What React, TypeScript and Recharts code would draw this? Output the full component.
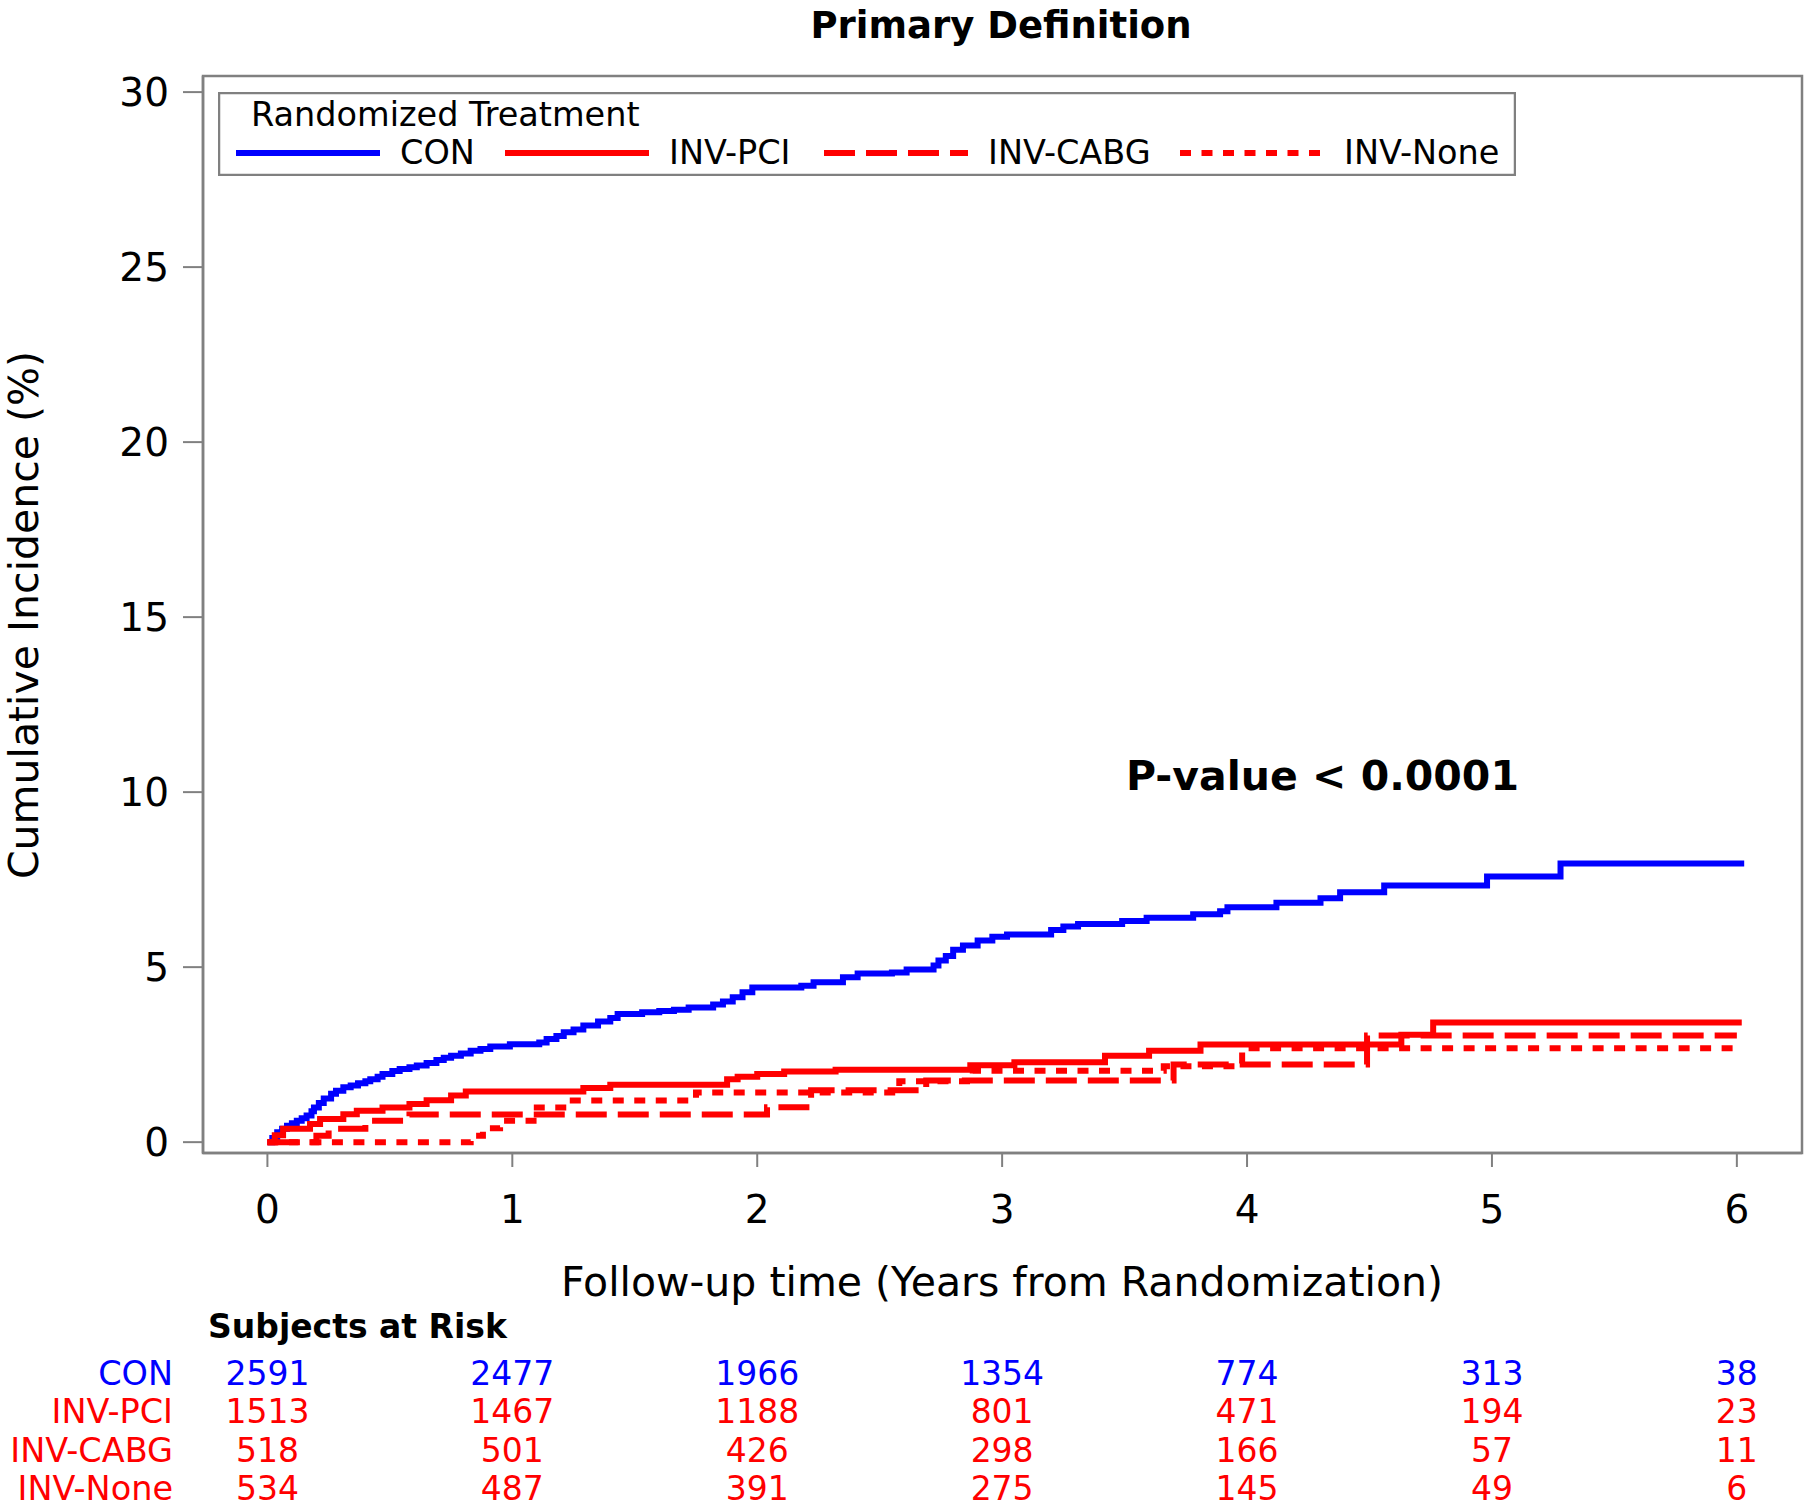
import { Legend, Line, LineChart, ReferenceArea, XAxis, YAxis } from "recharts";

const FONT = "'DejaVu Sans', sans-serif";
const BLUE = "#0000FF";
const RED = "#FF0000";
const FRAME = "#808080";

// [years, cumulative incidence %] at each step
const conSteps: [number, number][] = [
  [0, 0], [0.02, 0.12], [0.04, 0.28], [0.06, 0.38], [0.08, 0.47], [0.1, 0.54],
  [0.12, 0.61], [0.14, 0.68], [0.16, 0.76], [0.18, 0.88], [0.19, 0.99], [0.21, 1.12],
  [0.23, 1.25], [0.26, 1.38], [0.28, 1.47], [0.31, 1.57], [0.34, 1.62], [0.37, 1.68],
  [0.4, 1.74], [0.42, 1.8], [0.45, 1.87], [0.47, 1.95], [0.51, 2.03], [0.54, 2.09],
  [0.58, 2.14], [0.61, 2.19], [0.65, 2.26], [0.69, 2.35], [0.72, 2.41], [0.75, 2.47],
  [0.79, 2.53], [0.83, 2.61], [0.87, 2.66], [0.91, 2.73], [0.99, 2.8], [1.11, 2.85],
  [1.14, 2.95], [1.18, 3.03], [1.21, 3.14], [1.25, 3.22], [1.29, 3.33], [1.35, 3.45],
  [1.4, 3.55], [1.43, 3.66], [1.53, 3.71], [1.6, 3.75], [1.66, 3.78], [1.72, 3.85],
  [1.82, 3.93], [1.86, 4.02], [1.9, 4.14], [1.94, 4.28], [1.98, 4.42], [2.18, 4.47],
  [2.23, 4.57], [2.35, 4.71], [2.41, 4.82], [2.55, 4.85], [2.61, 4.93], [2.72, 5.05],
  [2.74, 5.19], [2.77, 5.32], [2.8, 5.5], [2.84, 5.62], [2.9, 5.76], [2.96, 5.87],
  [3.02, 5.93], [3.2, 6.06], [3.25, 6.16], [3.31, 6.23], [3.49, 6.32], [3.59, 6.41],
  [3.78, 6.51], [3.89, 6.6], [3.92, 6.71], [4.12, 6.84], [4.3, 6.97], [4.38, 7.14],
  [4.56, 7.33], [4.98, 7.59], [5.28, 7.96], [6.03, 7.96],
];

const pciSteps: [number, number][] = [
  [0, 0], [0.03, 0.2], [0.064, 0.38], [0.174, 0.52], [0.215, 0.66], [0.31, 0.8],
  [0.365, 0.9], [0.47, 0.99], [0.58, 1.09], [0.65, 1.2], [0.75, 1.33], [0.81, 1.45],
  [1.29, 1.55], [1.4, 1.64], [1.877, 1.8], [1.92, 1.87], [2.0, 1.95], [2.11, 2.02],
  [2.32, 2.07], [2.87, 2.2], [3.05, 2.28], [3.42, 2.47], [3.6, 2.61], [3.81, 2.79],
  [4.63, 3.07], [4.76, 3.42], [6.02, 3.42],
];

const cabgSteps: [number, number][] = [
  [0, 0], [0.2, 0.18], [0.25, 0.38], [0.4, 0.61], [0.58, 0.79], [2.04, 1.0],
  [2.22, 1.48], [2.69, 1.76], [3.7, 2.22], [4.49, 3.05], [6.0, 3.05],
];

const noneSteps: [number, number][] = [
  [0, 0], [0.83, 0.18], [0.88, 0.4], [0.95, 0.61], [1.1, 0.99], [1.23, 1.19],
  [1.75, 1.42], [2.58, 1.74], [2.88, 2.04], [3.66, 2.17], [3.98, 2.68], [6.01, 2.68],
];

const yearTicks = [0, 1, 2, 3, 4, 5, 6];
const incidenceTicks = [0, 5, 10, 15, 20, 25, 30];

const riskCON = [2591, 2477, 1966, 1354, 774, 313, 38];
const riskPCI = [1513, 1467, 1188, 801, 471, 194, 23];
const riskCABG = [518, 501, 426, 298, 166, 57, 11];
const riskNone = [534, 487, 391, 275, 145, 49, 6];

const series = [
  { name: "CON", steps: conSteps, color: BLUE, dash: undefined as string | undefined },
  { name: "INV-PCI", steps: pciSteps, color: RED, dash: undefined },
  { name: "INV-CABG", steps: cabgSteps, color: RED, dash: "31 11" },
  { name: "INV-None", steps: noneSteps, color: RED, dash: "11 10.5" },
];

const riskRows = [
  { name: "CON", color: BLUE, values: riskCON },
  { name: "INV-PCI", color: RED, values: riskPCI },
  { name: "INV-CABG", color: RED, values: riskCABG },
  { name: "INV-None", color: RED, values: riskNone },
];

const rowOffsets = [218, 256, 295, 333];

function YearTick(props: any) {
  const { x, y, payload } = props;
  const idx = yearTicks.indexOf(payload.value);
  return (
    <g fontFamily={FONT}>
      <text x={x} y={y + 56} textAnchor="middle" fontSize={39} fill="#000">
        {payload.value}
      </text>
      {riskRows.map((r, i) => (
        <text key={r.name} x={x} y={y + rowOffsets[i]} textAnchor="middle" fontSize={33} fill={r.color}>
          {r.values[idx]}
        </text>
      ))}
    </g>
  );
}

function LegendBox() {
  const slots = [18, 287, 606, 962];
  return (
    <svg width={1298} height={84} style={{ display: "block" }} fontFamily={FONT}>
      <rect x={1} y={1} width={1296} height={82} fill="#fff" stroke={FRAME} strokeWidth={2.5} />
      <text x={33} y={34} fontSize={33.5} fill="#000">Randomized Treatment</text>
      {series.map((s, i) => (
        <g key={s.name}>
          <line x1={slots[i]} x2={slots[i] + 144} y1={61} y2={61} stroke={s.color} strokeWidth={6} strokeDasharray={s.dash} />
          <text x={slots[i] + 164} y={72} fontSize={33.5} fill="#000">{s.name}</text>
        </g>
      ))}
    </svg>
  );
}

const xDomain = [-0.263, 6.266];
const yDomain = [-0.31, 30.46];
const frameLine = { stroke: FRAME, strokeWidth: 2.5 };

export default function App() {
  return (
    <div style={{ position: "absolute", left: 0, top: 0, width: 1810, height: 1508, background: "#fff" }}>
      <LineChart width={1810} height={1508} margin={{ top: 76, right: 8, bottom: 0, left: 0 }}>
        <XAxis
          type="number"
          dataKey="t"
          domain={xDomain}
          ticks={yearTicks}
          allowDataOverflow
          height={355}
          tickSize={14}
          tickMargin={0}
          axisLine={frameLine}
          tickLine={{ stroke: FRAME, strokeWidth: 2 }}
          tick={<YearTick />}
        />
        <YAxis
          type="number"
          domain={yDomain}
          ticks={incidenceTicks}
          allowDataOverflow
          width={203}
          tickSize={20}
          tickMargin={14}
          axisLine={frameLine}
          tickLine={{ stroke: FRAME, strokeWidth: 2 }}
          tick={{ fontSize: 39, fill: "#000", fontFamily: FONT }}
        />
        <ReferenceArea
          x1={xDomain[0]}
          x2={xDomain[1]}
          y1={yDomain[0]}
          y2={yDomain[1]}
          fill="none"
          stroke={FRAME}
          strokeWidth={2.5}
          ifOverflow="visible"
        />
        <Legend
          layout="horizontal"
          verticalAlign="middle"
          align="center"
          content={() => <LegendBox />}
          wrapperStyle={{ left: 218, top: 92, width: 1298, height: 84 }}
        />
        {series.map((s) => (
          <Line
            key={s.name}
            name={s.name}
            data={s.steps.map(([t, v]) => ({ t, v }))}
            dataKey="v"
            type="stepAfter"
            stroke={s.color}
            strokeWidth={6}
            strokeDasharray={s.dash}
            strokeLinecap="butt"
            strokeLinejoin="miter"
            dot={false}
            activeDot={false}
            isAnimationActive={false}
          />
        ))}
      </LineChart>
      <svg
        width={1810}
        height={1508}
        style={{ position: "absolute", left: 0, top: 0, pointerEvents: "none" }}
        fontFamily={FONT}
      >
        <text x={1001} y={38} textAnchor="middle" fontSize={37} fontWeight="bold" fill="#000">
          Primary Definition
        </text>
        <text x={1126} y={790} fontSize={41} fontWeight="bold" fill="#000">
          P-value &lt; 0.0001
        </text>
        <text x={24} y={615} transform="rotate(-90 24 615)" textAnchor="middle" dominantBaseline="central" fontSize={41} fill="#000">
          Cumulative Incidence (%)
        </text>
        <text x={1002} y={1296} textAnchor="middle" fontSize={41} fill="#000">
          Follow-up time (Years from Randomization)
        </text>
        <text x={208} y={1338} fontSize={33} fontWeight="bold" fill="#000">
          Subjects at Risk
        </text>
        {riskRows.map((r, i) => (
          <text key={r.name} x={173} y={1167 + rowOffsets[i]} textAnchor="end" fontSize={33.5} fill={r.color}>
            {r.name}
          </text>
        ))}
      </svg>
    </div>
  );
}
